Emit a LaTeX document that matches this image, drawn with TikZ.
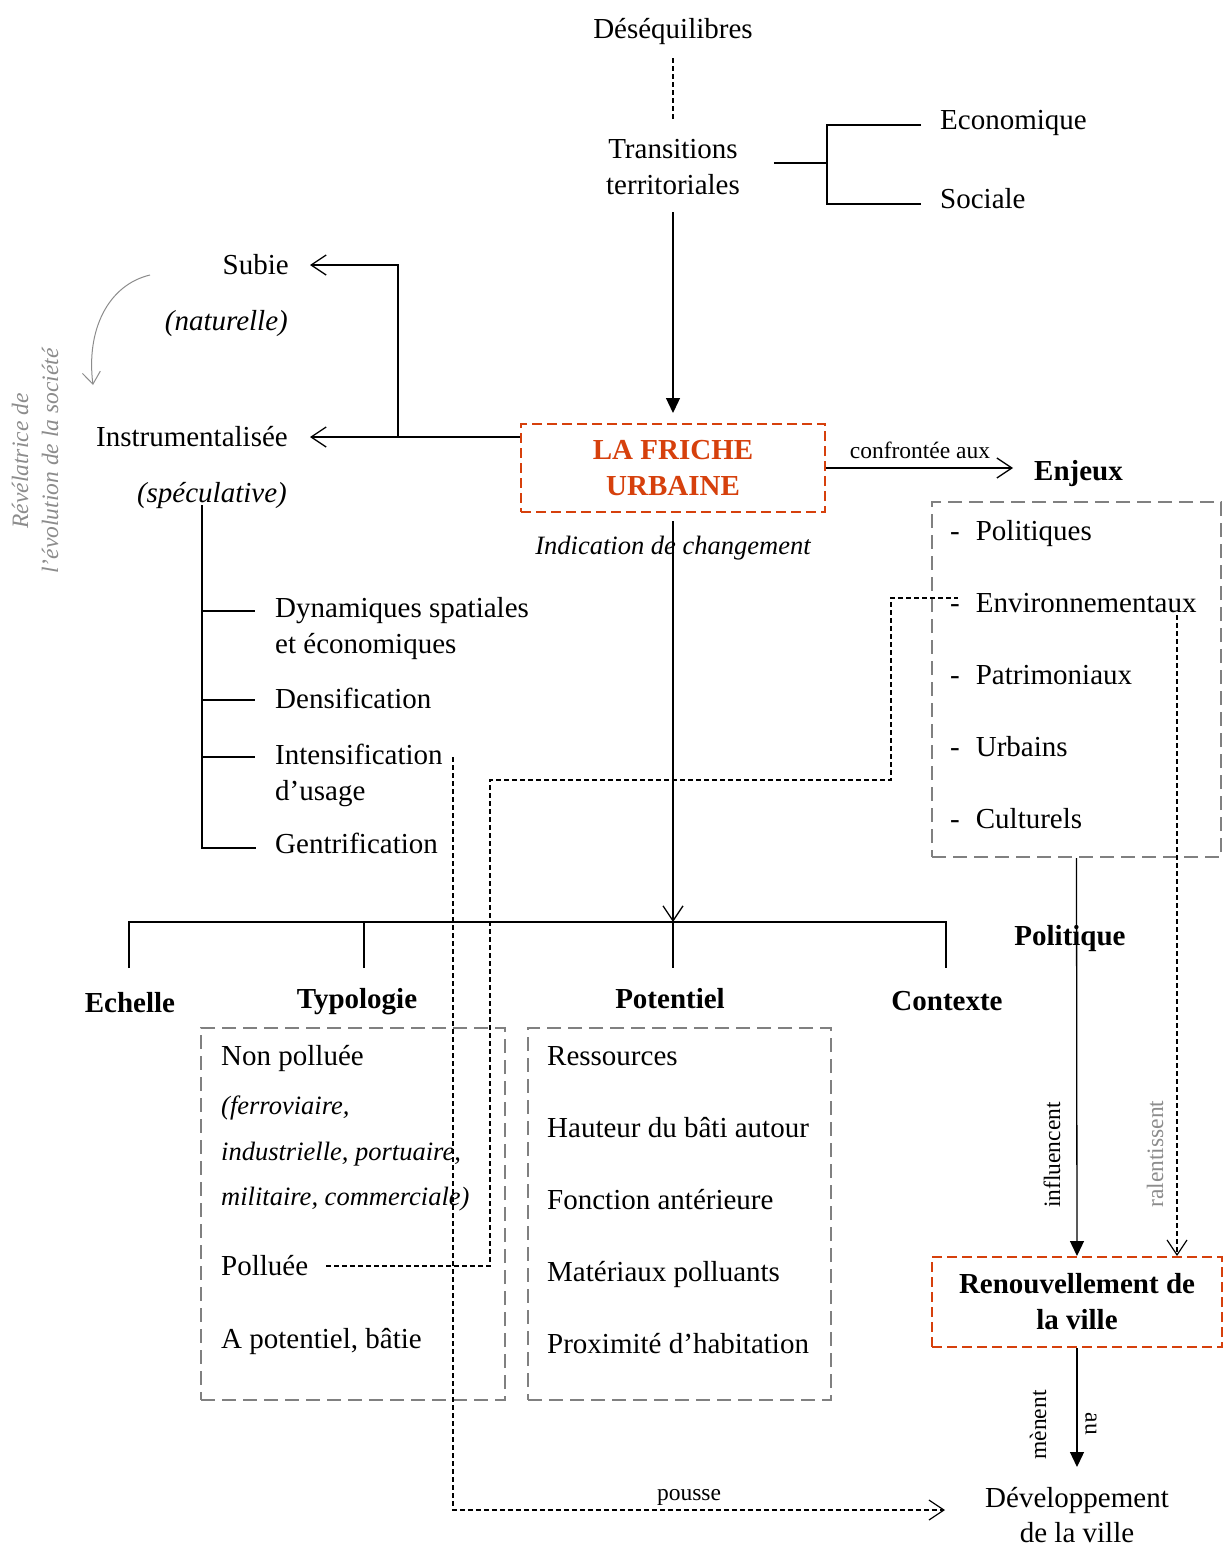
\documentclass[tikz,border=0pt]{standalone}
\usepackage{fontspec}
\setmainfont{Liberation Serif}
\usetikzlibrary{arrows.meta,calc}
\definecolor{friche}{RGB}{214,64,12}
\definecolor{boxgray}{RGB}{128,128,128}
\definecolor{txtgray}{RGB}{140,140,140}
\begin{document}
\begin{tikzpicture}[x=1pt,y=-1pt,
  mt/.style={inner sep=0pt, font=\fontsize{29}{36}\selectfont},
  bd/.style={inner sep=0pt, font=\fontsize{29}{36}\selectfont\bfseries},
  it/.style={inner sep=0pt, font=\fontsize{26.5}{33}\selectfont\itshape},
  itl/.style={inner sep=0pt, font=\fontsize{29}{36}\selectfont\itshape},
  sm/.style={inner sep=0pt, font=\fontsize{23.5}{30}\selectfont},
  ln/.style={line width=1.3pt},
  fdash/.style={line width=1.2pt, dash pattern=on 5pt off 3pt},
  oarr/.style={-{Straight Barb[length=15pt,width=20pt]}},
  farr/.style={-{Triangle[length=15pt,width=14pt]}},
  gbox/.style={draw=boxgray, line width=2pt, dash pattern=on 14pt off 7pt},
  obox/.style={draw=friche, line width=2pt, dash pattern=on 10pt off 5pt},
]
\fill[white] (0,0) rectangle (1223,1547);
\useasboundingbox (0,0) rectangle (1223,1547);

% ---- top
\node[mt, anchor=base] (deseq) at (673,38) {Déséquilibres};
\node[mt, anchor=base] (trans1) at (673,158) {Transitions};
\node[mt, anchor=base] (trans2) at (673,194) {territoriales};
\node[mt, anchor=base west] (eco) at (940,129) {Economique};
\node[mt, anchor=base west] (soc) at (940,208) {Sociale};
\draw[fdash] ($(deseq.base)+(0,20)$) -- ($(trans1.base)+(0,-38)$);
\draw[ln] ($(trans1.base east)+(36,5)$) -- ++(52,0);
\draw[ln] ($(eco.base west)+(-19,-4)$) -- ++(-94,0) -- ++(0,79) -- ($(soc.base west)+(-19,-4)$);

% ---- friche
\node[obox, minimum width=304pt, minimum height=88pt, align=center, inner sep=0pt,
      font=\fontsize{29}{36}\selectfont\bfseries, text=friche] (friche) at (673,468) {LA FRICHE\\URBAINE};
\draw[ln, farr, shorten >=10pt] ($(trans2.base)+(0,18)$) -- (friche.north);
\node[it, anchor=base] (indic) at (673,554) {Indication de changement};
\coordinate (hub) at (673,922);
\draw[ln, oarr] ($(friche.south)+(0,8)$) -- (hub);
\draw[ln] (hub) -- ++(0,46);

% ---- bottom categories
\node[bd, anchor=base] (echelle) at (130,1012) {Echelle};
\node[bd, anchor=base] (typo) at (357,1008) {Typologie};
\node[bd, anchor=base] (pot) at (670,1008) {Potentiel};
\node[bd, anchor=base] (ctx) at (947,1010) {Contexte};
\draw[ln] ($(echelle.base)+(-1,-44)$) |- (hub) -| ($(ctx.base)+(-1,-42)$);
\draw[ln] ($(typo.base)+(7,-40)$) -- ++(0,-46);

% ---- left branch
\node[mt, anchor=base east] (subie) at (289,274) {Subie};
\node[itl, anchor=base east] (natur) at (288,330) {(naturelle)};
\node[mt, anchor=base east] (instr) at (288,446) {Instrumentalisée};
\node[itl, anchor=base east] (specu) at (287,502) {(spéculative)};
\coordinate (jL) at (398,437);
\draw[ln] (friche.west |- jL) -- (jL);
\draw[ln, oarr] (jL) -- ($(instr.base east)+(22,-9)$);
\draw[ln, oarr] (jL) |- ($(subie.base east)+(21,-9)$);

\coordinate (gc1) at (150,275);
\coordinate (gc2) at (93,385);
\draw[txtgray, line width=1pt, -{Straight Barb[length=12pt,width=18pt]}] (gc1) .. controls (108,285) and (86,330) .. (gc2);
\node[inner sep=0pt, font=\fontsize{23.5}{30}\selectfont\itshape, text=txtgray, rotate=90, align=center] (revel) at (35,461) {Révélatrice de\\l’évolution de la société};

% ---- tree
\node[mt, anchor=base west] (dyn1) at (275,617) {Dynamiques spatiales};
\node[mt, anchor=base west] (dyn2) at (275,653) {et économiques};
\node[mt, anchor=base west] (dens) at (275,708) {Densification};
\node[mt, anchor=base west] (int1) at (275,764) {Intensification};
\node[mt, anchor=base west] (int2) at (275,800) {d’usage};
\node[mt, anchor=base west] (gent) at (275,853) {Gentrification};
\coordinate (tr) at (202,505);
\draw[ln] (tr) |- ($(gent.base west)+(-19,-5)$);
\draw[ln] ($(dyn1.base west)+(-73,-6)$) -- ++(53,0);
\draw[ln] ($(dens.base west)+(-73,-8)$) -- ++(53,0);
\draw[ln] ($(int1.base west)+(-73,-7)$) -- ++(53,0);

% ---- enjeux
\node[bd, anchor=base west] (enjeux) at (1034,480) {Enjeux};
\node[sm, anchor=base] (confr) at (920,458) {confrontée aux};
\coordinate (enjA) at ($(enjeux.base west)+(-21,-11)$);
\draw[ln, oarr] (friche.east) -- (friche.east -| enjA);
\node[gbox, minimum width=289pt, minimum height=355pt] (enjbox) at (1076.5,679.5) {};
\node[mt, anchor=base west] (e1) at (950,540) {-\hspace{16pt}Politiques};
\node[mt, anchor=base west] (e2) at (950,612) {-\hspace{16pt}Environnementaux};
\node[mt, anchor=base west] (e3) at (950,684) {-\hspace{16pt}Patrimoniaux};
\node[mt, anchor=base west] (e4) at (950,756) {-\hspace{16pt}Urbains};
\node[mt, anchor=base west] (e5) at (950,828) {-\hspace{16pt}Culturels};

\node[bd, anchor=base] (polq) at (1070,945) {Politique};
\node[obox, minimum width=290pt, minimum height=90pt, inner sep=0pt, align=center,
      font=\fontsize{29}{36}\selectfont\bfseries] (renouv) at (1077,1302) {Renouvellement de\\la ville};
\draw[ln, farr] (enjbox.south) -- (renouv.north);
\node[sm, rotate=90] (infl) at (1052,1155) {influencent};
\coordinate (ral) at (1177,615);
\draw[fdash, oarr] (ral) -- (ral |- renouv.north);
\node[sm, rotate=90, text=txtgray] (ralt) at (1155,1154) {ralentissent};

\node[mt, anchor=base] (dev1) at (1077,1507) {Développement};
\node[mt, anchor=base] (dev2) at (1077,1542) {de la ville};
\draw[ln, farr] (renouv.south) -- ($(dev1.base)+(0,-40)$);
\node[sm, rotate=90] (menent) at (1038,1425) {mènent};
\node[sm, rotate=-90] (au) at (1091,1424) {au};

% ---- typologie box
\node[gbox, minimum width=304pt, minimum height=372pt] (tbox) at (353,1214) {};
\node[mt, anchor=base west] (t1) at (221,1065) {Non polluée};
\node[it, anchor=base west] (t2) at (221,1114) {(ferroviaire,};
\node[it, anchor=base west] (t3) at (221,1160) {industrielle, portuaire,};
\node[it, anchor=base west] (t4) at (221,1205) {militaire, commerciale)};
\node[mt, anchor=base west] (poll) at (221,1275) {Polluée};
\node[mt, anchor=base west] (t6) at (221,1348) {A potentiel, bâtie};

% ---- potentiel box
\node[gbox, minimum width=303pt, minimum height=372pt] (pbox) at (679.5,1214) {};
\node[mt, anchor=base west] (p1) at (547,1065) {Ressources};
\node[mt, anchor=base west] (p2) at (547,1137) {Hauteur du bâti autour};
\node[mt, anchor=base west] (p3) at (547,1209) {Fonction antérieure};
\node[mt, anchor=base west] (p4) at (547,1281) {Matériaux polluants};
\node[mt, anchor=base west] (p5) at (547,1353) {Proximité d’habitation};

% ---- dashed connectors
\draw[fdash] ($(poll.base east)+(18,-9)$) -| (490,780) -| (891,598) -- ($(e2.base west)+(8,-14)$);
\draw[fdash, oarr] ($(int1.base east)+(10,-7)$) |- ($(dev1.base west)+(-40,3)$);
\node[sm, anchor=base] (pousse) at (689,1500) {pousse};
\end{tikzpicture}
\end{document}
